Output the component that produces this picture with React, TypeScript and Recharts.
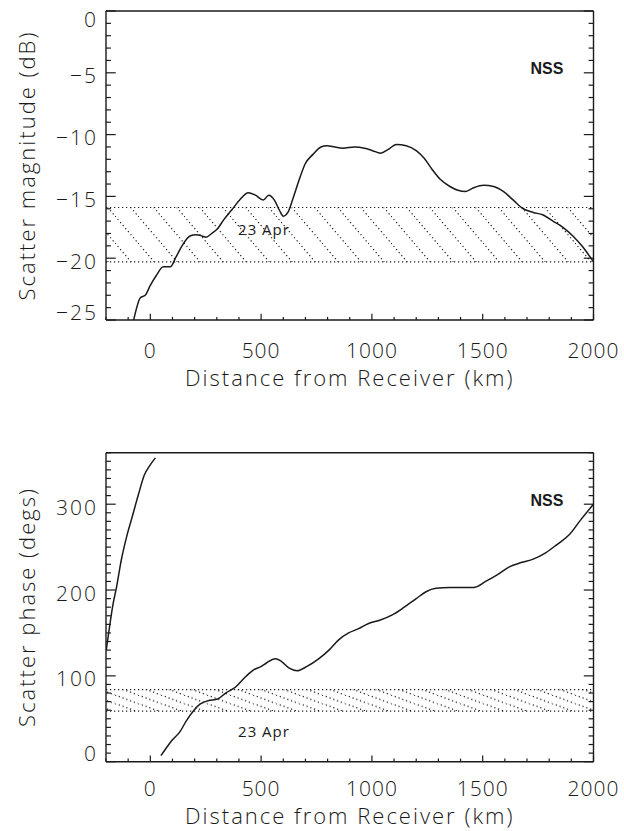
import React from 'react';
import { LineChart, Line, XAxis, YAxis, ReferenceArea, ReferenceLine, ReferenceDot } from 'recharts';

// x axis (km)
const distTicks = [-200, -100, 0, 100, 200, 300, 400, 500, 600, 700, 800, 900, 1000, 1100, 1200, 1300, 1400, 1500, 1600, 1700, 1800, 1900, 2000];
const distLabels = [0, 500, 1000, 1500, 2000];

// top panel: scatter magnitude (dB)
const magTicks = [-25, -24, -23, -22, -21, -20, -19, -18, -17, -16, -15, -14, -13, -12, -11, -10, -9, -8, -7, -6, -5, -4, -3, -2, -1, 0];
const magLabels = [0, -5, -10, -15, -20, -25];
const magDist = [-75, -63, -45, -23, 0, 27, 59, 90, 116, 143, 179, 206, 233, 251, 277, 304, 331, 367, 403, 442, 474, 510, 534, 560, 582, 600, 621, 645, 671, 698, 734, 770, 797, 833, 868, 922, 967, 1003, 1039, 1074, 1110, 1155, 1200, 1235, 1271, 1307, 1352, 1388, 1423, 1459, 1504, 1549, 1593, 1638, 1683, 1728, 1773, 1817, 1862, 1907, 1952, 2000];
const magValue = [-25, -24.1, -23.2, -23.0, -22.2, -21.4, -20.7, -20.7, -19.9, -19.0, -18.2, -18.1, -18.2, -18.3, -18.0, -17.6, -16.9, -16.1, -15.3, -14.7, -14.9, -15.3, -14.9, -15.3, -16.1, -16.6, -16.3, -15.1, -13.7, -12.4, -11.6, -11.0, -10.9, -11.0, -11.1, -11.0, -11.1, -11.3, -11.5, -11.2, -10.8, -10.9, -11.3, -11.9, -12.8, -13.6, -14.2, -14.5, -14.6, -14.3, -14.1, -14.2, -14.6, -15.3, -16.0, -16.3, -16.5, -17.0, -17.5, -18.2, -19.1, -20.3];
const magBand = [-20.3, -15.9];

// bottom panel: scatter phase (degs)
const phaseTicks = [0, 10, 20, 30, 40, 50, 60, 70, 80, 90, 100, 110, 120, 130, 140, 150, 160, 170, 180, 190, 200, 210, 220, 230, 240, 250, 260, 270, 280, 290, 300, 310, 320, 330, 340, 350, 360];
const phaseLabels = [0, 100, 200, 300];
const wrapDist = [-199, -184, -170, -152, -131, -107, -81, -54, -27, -5, 23];
const wrapValue = [130, 157, 181, 204, 235, 262, 286, 311, 334, 344, 354];
const phaseDist = [48, 72, 98, 134, 161, 197, 224, 260, 304, 340, 385, 430, 466, 501, 524, 564, 591, 627, 662, 707, 761, 806, 850, 895, 940, 985, 1038, 1092, 1146, 1200, 1244, 1289, 1352, 1405, 1459, 1513, 1567, 1620, 1674, 1728, 1782, 1835, 1889, 1943, 2000];
const phaseValue = [7, 16, 25, 35, 47, 60, 67, 71, 73, 80, 87, 99, 107, 111, 115, 120, 117, 109, 106, 111, 120, 130, 142, 150, 155, 161, 165, 171, 180, 190, 198, 202, 203, 203, 203, 210, 218, 227, 232, 236, 243, 253, 264, 282, 300];
const phaseBand = [59, 84];

const magRows = magDist.map((d, i) => ({ d, v: magValue[i] }));
const wrapRows = wrapDist.map((d, i) => ({ d, v: wrapValue[i] }));
const phaseRows = phaseDist.map((d, i) => ({ d, v: phaseValue[i] }));

const INK = '#1a1a1a';
const FONT = '"Open Sans", Lato, sans-serif';

const fmt = (v: number) => (v < 0 ? '\u2212' + Math.abs(v) : String(v));

function XTick(props: any) {
  const { x, y, payload, side, labelOffset } = props;
  const v = payload.value;
  const major = distLabels.includes(v);
  const len = major ? 6.2 : 3.1;
  const dir = side === 'top' ? 1 : -1;
  return (
    <g>
      <line x1={x} y1={y} x2={x} y2={y + dir * len} stroke={INK} strokeWidth={1.2} />
      {side === 'bottom' && major && (
        <text x={x} y={y + labelOffset} textAnchor="middle" fontSize={21} fontWeight={300} fontFamily={FONT}
          letterSpacing={1} fill={INK}>
          {fmt(v)}
        </text>
      )}
    </g>
  );
}

function YTick(props: any) {
  const { x, y, payload, side, majors, top, bottom } = props;
  const v = payload.value;
  const major = majors.includes(v);
  const len = major ? 9.7 : 4.9;
  const dir = side === 'left' ? 1 : -1;
  let cy = y + 3;
  if (cy < top + 8) cy = top + 8;
  if (cy > bottom - 8) cy = bottom - 8;
  return (
    <g>
      <line x1={x} y1={y} x2={x + dir * len} y2={y} stroke={INK} strokeWidth={1.2} />
      {side === 'left' && major && (
        <text x={x - 8} y={cy + 7.5} textAnchor="end" fontSize={21} fontWeight={300} fontFamily={FONT}
          letterSpacing={2} fill={INK}>
          {fmt(v)}
        </text>
      )}
    </g>
  );
}

function Panel(props: any) {
  const { height, margin, yTicks, yLabels, yDomain, series, band, hatch, nss, apr, plotTop, plotBottom, labelOffset } = props;
  return (
    <LineChart width={624} height={height} margin={margin}>
      <XAxis xAxisId="b" type="number" dataKey="d" domain={[-200, 2000]} allowDataOverflow ticks={distTicks} interval={0}
        height={60} tickSize={0} tickMargin={0} stroke={INK} strokeWidth={1.4}
        tick={<XTick side="bottom" labelOffset={labelOffset} />} />
      <XAxis xAxisId="t" orientation="top" type="number" domain={[-200, 2000]} allowDataOverflow ticks={distTicks} interval={0}
        height={5} tickSize={0} tickMargin={0} stroke={INK} strokeWidth={1.4} tick={<XTick side="top" />} />
      <YAxis yAxisId="l" type="number" domain={yDomain} allowDataOverflow ticks={yTicks} interval={0}
        width={60} tickSize={0} tickMargin={0} stroke={INK} strokeWidth={1.4}
        tick={<YTick side="left" majors={yLabels} top={plotTop} bottom={plotBottom} />} />
      <YAxis yAxisId="r" orientation="right" type="number" domain={yDomain} allowDataOverflow ticks={yTicks} interval={0}
        width={10} tickSize={0} tickMargin={0} stroke={INK} strokeWidth={1.4}
        tick={<YTick side="right" majors={yLabels} top={plotTop} bottom={plotBottom} />} />
      <ReferenceArea xAxisId="b" yAxisId="l" x1={-200} x2={2000} y1={band[0]} y2={band[1]} fill={`url(#${hatch})`} fillOpacity={1} stroke="none" />
      <ReferenceLine xAxisId="b" yAxisId="l" y={band[0]} stroke={INK} strokeWidth={1.2} strokeDasharray="1.2 2.8" />
      <ReferenceLine xAxisId="b" yAxisId="l" y={band[1]} stroke={INK} strokeWidth={1.2} strokeDasharray="1.2 2.8" />
      {series.map((rows: any[], i: number) => (
        <Line key={i} xAxisId="b" yAxisId="l" data={rows} dataKey="v" type="monotone" dot={false}
          stroke={INK} strokeWidth={1.5} isAnimationActive={false} />
      ))}
      <ReferenceDot xAxisId="b" yAxisId="l" x={nss[0]} y={nss[1]} r={0} stroke="none" fill="none"
        label={{ value: 'NSS', position: 'center', fontSize: 16, fontWeight: 700, fontFamily: '"Liberation Sans", Arial, sans-serif', fill: INK }} />
      <ReferenceDot xAxisId="b" yAxisId="l" x={apr[0]} y={apr[1]} r={0} stroke="none" fill="none"
        label={{ value: '23 Apr', position: 'center', fontSize: 15, fontFamily: FONT, letterSpacing: 1, fill: INK }} />
    </LineChart>
  );
}

export default function App() {
  const title = { fontSize: 22, fontWeight: 300, fontFamily: FONT, letterSpacing: 2, fill: INK } as const;
  return (
    <div style={{ position: 'absolute', left: 0, top: 0, width: 624, height: 831, background: '#fff' }}>
      <svg width={0} height={0} style={{ position: 'absolute' }}>
        <defs>
          <pattern id="hatchMag" patternUnits="userSpaceOnUse" width={23} height={27}>
            <line x1={0} y1={0} x2={23} y2={27} stroke={INK} strokeWidth={1.2} strokeDasharray="1.2 2.8" />
          </pattern>
          <pattern id="hatchPhase" patternUnits="userSpaceOnUse" width={23} height={8.5}>
            <line x1={0} y1={0} x2={23} y2={8.5} stroke={INK} strokeWidth={1.2} strokeDasharray="1.2 2.8" />
          </pattern>
        </defs>
      </svg>
      <div style={{ position: 'absolute', left: 0, top: 0 }}>
        <Panel height={400} margin={{ top: 6, right: 20.5, bottom: 20, left: 46 }}
          yTicks={magTicks} yLabels={magLabels} yDomain={[-25, 0]} series={[magRows]} band={magBand}
          hatch="hatchMag" nss={[1790, -4.6]} apr={[513, -17.7]} plotTop={11} plotBottom={320} labelOffset={38} />
      </div>
      <div style={{ position: 'absolute', left: 0, top: 440 }}>
        <Panel height={391} margin={{ top: 7.7, right: 20.5, bottom: 9.3, left: 46 }}
          yTicks={phaseTicks} yLabels={phaseLabels} yDomain={[0, 360]} series={[wrapRows, phaseRows]} band={phaseBand}
          hatch="hatchPhase" nss={[1790, 305]} apr={[513, 35]} plotTop={12.7} plotBottom={321.7} labelOffset={34} />
      </div>
      <svg width={624} height={831} style={{ position: 'absolute', left: 0, top: 0, pointerEvents: 'none' }}>
        <text transform="translate(35,165.5) rotate(-90)" textAnchor="middle" {...title}>Scatter magnitude (dB)</text>
        <text x={349.75} y={385.5} textAnchor="middle" {...title}>Distance from Receiver (km)</text>
        <text transform="translate(35,607) rotate(-90)" textAnchor="middle" {...title}>Scatter phase (degs)</text>
        <text x={349.75} y={824} textAnchor="middle" {...title}>Distance from Receiver (km)</text>
      </svg>
    </div>
  );
}
